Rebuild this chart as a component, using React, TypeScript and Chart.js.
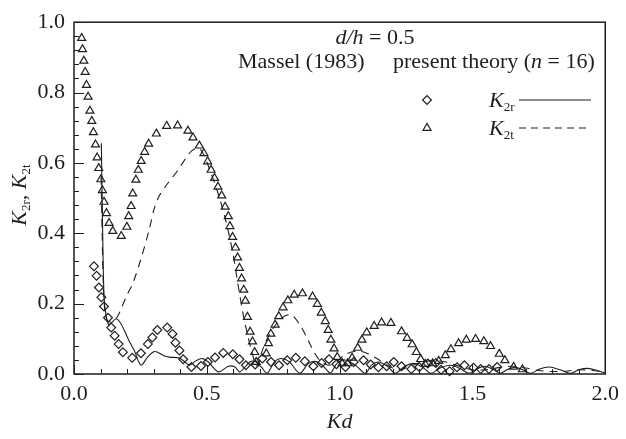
import React, { useEffect, useRef } from "react";
import { Chart, registerables } from "chart.js";

Chart.register(...registerables);

const SERIF = '"Liberation Serif", "Times New Roman", serif';
const INK = "#1e1e1e";

// Massel (1983), reflected second-order coefficient K2r
const masselRKd = [
  0.075, 0.085, 0.094, 0.103, 0.113, 0.128, 0.14, 0.153, 0.168, 0.184, 0.219, 0.252, 0.278, 0.295, 0.314,
  0.351, 0.371, 0.382, 0.397, 0.411, 0.442, 0.478, 0.504, 0.531, 0.562, 0.598, 0.623, 0.647, 0.682, 0.709,
  0.742, 0.772, 0.803, 0.835, 0.869, 0.901, 0.932, 0.96, 0.988, 1.022, 1.053, 1.09, 1.117, 1.146, 1.177,
  1.204, 1.233, 1.27, 1.3, 1.332, 1.362, 1.382, 1.414, 1.442, 1.47, 1.504, 1.531, 1.562, 1.593,
];
const masselR = [
  0.306, 0.279, 0.246, 0.218, 0.192, 0.16, 0.132, 0.109, 0.085, 0.062, 0.046, 0.059, 0.085, 0.104, 0.125,
  0.132, 0.114, 0.089, 0.067, 0.042, 0.02, 0.023, 0.034, 0.047, 0.06, 0.056, 0.042, 0.025, 0.027, 0.044,
  0.034, 0.025, 0.039, 0.046, 0.036, 0.022, 0.031, 0.042, 0.028, 0.02, 0.034, 0.039, 0.027, 0.019, 0.022,
  0.034, 0.022, 0.014, 0.02, 0.03, 0.031, 0.012, 0.008, 0.019, 0.025, 0.018, 0.014, 0.014, 0.02,
];

// Massel (1983), transmitted second-order coefficient K2t
const masselTKd = [
  0.029, 0.032, 0.037, 0.042, 0.047, 0.053, 0.06, 0.067, 0.073, 0.081, 0.087, 0.093, 0.101, 0.107, 0.113,
  0.122, 0.132, 0.146, 0.178, 0.199, 0.206, 0.215, 0.221, 0.233, 0.242, 0.253, 0.266, 0.281, 0.31, 0.349,
  0.39, 0.429, 0.448, 0.472, 0.489, 0.503, 0.516, 0.529, 0.542, 0.556, 0.569, 0.581, 0.587, 0.597, 0.608,
  0.616, 0.623, 0.631, 0.639, 0.645, 0.653, 0.663, 0.672, 0.68, 0.686, 0.724, 0.732, 0.741, 0.757, 0.771,
  0.787, 0.805, 0.829, 0.86, 0.898, 0.916, 0.931, 0.946, 0.957, 0.967, 0.979, 0.991, 1.01, 1.03, 1.047,
  1.068, 1.084, 1.102, 1.13, 1.158, 1.193, 1.233, 1.254, 1.273, 1.289, 1.305, 1.322, 1.35, 1.373, 1.398,
  1.419, 1.448, 1.477, 1.512, 1.543, 1.568, 1.601, 1.622, 1.655, 1.688,
];
const masselT = [
  0.955, 0.923, 0.89, 0.858, 0.821, 0.788, 0.748, 0.719, 0.687, 0.652, 0.615, 0.585, 0.553, 0.522, 0.489,
  0.457, 0.429, 0.406, 0.392, 0.418, 0.448, 0.477, 0.513, 0.552, 0.58, 0.605, 0.631, 0.654, 0.683, 0.705,
  0.706, 0.691, 0.672, 0.649, 0.627, 0.604, 0.58, 0.557, 0.532, 0.507, 0.475, 0.448, 0.42, 0.389, 0.359,
  0.331, 0.301, 0.271, 0.239, 0.208, 0.162, 0.12, 0.092, 0.062, 0.034, 0.058, 0.087, 0.114, 0.14, 0.164,
  0.189, 0.209, 0.225, 0.229, 0.22, 0.199, 0.174, 0.15, 0.125, 0.097, 0.072, 0.048, 0.03, 0.03, 0.046,
  0.074, 0.097, 0.118, 0.136, 0.146, 0.145, 0.121, 0.102, 0.084, 0.062, 0.042, 0.028, 0.03, 0.037, 0.053,
  0.07, 0.087, 0.097, 0.099, 0.093, 0.079, 0.057, 0.039, 0.02, 0.013,
];

// Present theory (n = 16), K2r
const theoryRKd = [
  0.103, 0.108, 0.113, 0.12, 0.13, 0.14, 0.159, 0.175, 0.19, 0.21, 0.227, 0.252, 0.277, 0.3, 0.315, 0.338,
  0.358, 0.395, 0.413, 0.435, 0.46, 0.482, 0.506, 0.544, 0.581, 0.606, 0.624, 0.662, 0.68, 0.705, 0.727,
  0.755, 0.78, 0.81, 0.85, 0.88, 0.905, 0.935, 0.965, 0.99, 1.02, 1.06, 1.096, 1.12, 1.146, 1.18, 1.21,
  1.245, 1.282, 1.315, 1.344, 1.38, 1.419, 1.455, 1.487, 1.52, 1.549, 1.58, 1.605, 1.635, 1.665, 1.695,
  1.72, 1.755, 1.79, 1.83, 1.87, 1.9, 1.935, 1.97, 2.0,
];
const theoryR = [
  0.656, 0.4, 0.22, 0.17, 0.14, 0.145, 0.157, 0.145, 0.123, 0.09, 0.067, 0.025, 0.048, 0.063, 0.062, 0.052,
  0.048, 0.046, 0.037, 0.025, 0.038, 0.044, 0.034, 0.006, 0.022, 0.02, 0.006, 0.034, 0.036, 0.02, 0.002,
  0.035, 0.044, 0.035, 0.002, 0.028, 0.036, 0.025, 0.003, 0.03, 0.04, 0.025, 0.002, 0.025, 0.034, 0.022,
  0.002, 0.022, 0.03, 0.018, 0.002, 0.018, 0.025, 0.015, 0.002, 0.016, 0.022, 0.012, 0.002, 0.014, 0.018,
  0.01, 0.002, 0.015, 0.02, 0.012, 0.002, 0.012, 0.016, 0.01, 0.003,
];

// Present theory (n = 16), K2t
const theoryTKd = [
  0.102, 0.106, 0.11, 0.116, 0.125, 0.135, 0.15, 0.165, 0.18, 0.2, 0.221, 0.252, 0.283, 0.302, 0.32, 0.351,
  0.389, 0.426, 0.444, 0.469, 0.488, 0.513, 0.537, 0.554, 0.569, 0.585, 0.6, 0.612, 0.624, 0.637, 0.653,
  0.668, 0.683, 0.692, 0.705, 0.724, 0.75, 0.78, 0.817, 0.854, 0.879, 0.904, 0.93, 0.96, 0.99, 1.02, 1.065,
  1.1, 1.14, 1.18, 1.22, 1.26, 1.3, 1.35, 1.4, 1.45, 1.5, 1.55, 1.6, 1.65, 1.7, 1.75, 1.8, 1.85, 1.9, 1.95,
  2.0,
];
const theoryT = [
  0.56, 0.4, 0.26, 0.18, 0.152, 0.148, 0.152, 0.165, 0.19, 0.225, 0.257, 0.327, 0.41, 0.47, 0.505, 0.54,
  0.577, 0.619, 0.635, 0.642, 0.624, 0.577, 0.526, 0.485, 0.443, 0.392, 0.336, 0.28, 0.225, 0.169, 0.113,
  0.067, 0.03, 0.022, 0.058, 0.095, 0.13, 0.158, 0.169, 0.135, 0.1, 0.062, 0.035, 0.025, 0.035, 0.055, 0.065,
  0.06, 0.044, 0.025, 0.012, 0.02, 0.032, 0.038, 0.034, 0.022, 0.012, 0.012, 0.018, 0.022, 0.017, 0.01,
  0.007, 0.008, 0.012, 0.01, 0.006,
];

const xTickValues = [0, 0.5, 1.0, 1.5, 2.0];
const yTickValues = [0, 0.2, 0.4, 0.6, 0.8, 1.0];

const pairs = (xs: number[], ys: number[]) => xs.map((x, i) => ({ x, y: ys[i] }));

type Run = { text: string; size: number; italic?: boolean; dy?: number };

function runWidth(ctx: CanvasRenderingContext2D, runs: Run[]) {
  let w = 0;
  for (const r of runs) {
    ctx.font = `${r.italic ? "italic " : ""}${r.size}px ${SERIF}`;
    w += ctx.measureText(r.text).width;
  }
  return w;
}

function drawRuns(ctx: CanvasRenderingContext2D, runs: Run[], x: number, y: number) {
  let cx = x;
  ctx.textBaseline = "alphabetic";
  ctx.textAlign = "left";
  for (const r of runs) {
    ctx.font = `${r.italic ? "italic " : ""}${r.size}px ${SERIF}`;
    ctx.fillText(r.text, cx, y + (r.dy || 0));
    cx += ctx.measureText(r.text).width;
  }
}

// legend glyphs, same geometry as the library's rectRot / triangle point styles
function diamond(ctx: CanvasRenderingContext2D, x: number, y: number, r: number) {
  ctx.beginPath();
  ctx.moveTo(x, y - r);
  ctx.lineTo(x + r, y);
  ctx.lineTo(x, y + r);
  ctx.lineTo(x - r, y);
  ctx.closePath();
  ctx.stroke();
}

function triangle(ctx: CanvasRenderingContext2D, x: number, y: number, r: number) {
  ctx.beginPath();
  for (let k = 0; k < 3; k++) {
    const a = (k * 2 * Math.PI) / 3;
    const px = x + Math.sin(a) * r;
    const py = y - Math.cos(a) * r;
    if (k === 0) ctx.moveTo(px, py);
    else ctx.lineTo(px, py);
  }
  ctx.closePath();
  ctx.stroke();
}

const decorations = {
  id: "decorations",
  afterDraw(chart: any) {
    const { ctx, chartArea, scales } = chart;
    const xs = scales.x;
    const ys = scales.y;
    ctx.save();
    ctx.strokeStyle = INK;
    ctx.fillStyle = INK;

    // frame
    ctx.lineWidth = 1.5;
    ctx.strokeRect(chartArea.left, chartArea.top, chartArea.right - chartArea.left, chartArea.bottom - chartArea.top);

    // inward ticks
    ctx.lineWidth = 1;
    for (let i = 0; i <= 20; i++) {
      const v = i / 10;
      const px = Math.round(xs.getPixelForValue(v)) + 0.5;
      const len = i % 5 === 0 ? 9 : 5;
      ctx.beginPath();
      ctx.moveTo(px, chartArea.bottom);
      ctx.lineTo(px, chartArea.bottom - len);
      ctx.stroke();
    }
    for (let i = 0; i <= 25; i++) {
      const v = i * 0.04;
      const py = Math.round(ys.getPixelForValue(v)) + 0.5;
      const len = i % 5 === 0 ? 10 : 5;
      ctx.beginPath();
      ctx.moveTo(chartArea.left, py);
      ctx.lineTo(chartArea.left + len, py);
      ctx.stroke();
    }

    // header text
    const fs = 22;
    const sub = 13;
    const head: Run[] = [
      { text: "d/h", size: fs, italic: true },
      { text: " = 0.5", size: fs },
    ];
    drawRuns(ctx, head, 375 - runWidth(ctx, head) / 2, 44);
    drawRuns(ctx, [{ text: "Massel (1983)", size: fs }], 238, 68);
    drawRuns(
      ctx,
      [
        { text: "present theory (", size: fs },
        { text: "n", size: fs, italic: true },
        { text: " = 16)", size: fs },
      ],
      393,
      68
    );

    // legend rows
    const rows = [
      { sub: "2r", y: 100, tri: false, dash: [] as number[] },
      { sub: "2t", y: 128, tri: true, dash: [7, 5] },
    ];
    for (const row of rows) {
      ctx.lineWidth = 1.2;
      ctx.setLineDash([]);
      if (row.tri) triangle(ctx, 427, row.y, 4.6);
      else diamond(ctx, 427, row.y, 4.4);
      drawRuns(
        ctx,
        [
          { text: "K", size: fs, italic: true },
          { text: row.sub, size: sub, dy: 4 },
        ],
        489,
        row.y + 7
      );
      ctx.setLineDash(row.dash);
      ctx.lineWidth = 1.2;
      ctx.beginPath();
      ctx.moveTo(519, row.y);
      ctx.lineTo(591, row.y);
      ctx.stroke();
    }
    ctx.setLineDash([]);

    // axis titles
    const kd: Run[] = [{ text: "Kd", size: fs, italic: true }];
    drawRuns(ctx, kd, (chartArea.left + chartArea.right) / 2 - runWidth(ctx, kd) / 2, 428);

    const yt: Run[] = [
      { text: "K", size: fs, italic: true },
      { text: "2r", size: sub, dy: 4 },
      { text: ", ", size: fs },
      { text: "K", size: fs, italic: true },
      { text: "2t", size: sub, dy: 4 },
    ];
    ctx.translate(26, 195);
    ctx.rotate(-Math.PI / 2);
    drawRuns(ctx, yt, -runWidth(ctx, yt) / 2, 0);
    ctx.restore();
  },
};

export default function App() {
  const ref = useRef<HTMLCanvasElement | null>(null);

  useEffect(() => {
    document.body.style.margin = "0";
    const canvas = ref.current;
    if (!canvas) return;

    const chart = new Chart(canvas, {
      type: "scatter",
      data: {
        datasets: [
          {
            label: "present theory K2r",
            type: "line",
            data: pairs(theoryRKd, theoryR),
            borderColor: INK,
            borderWidth: 1.1,
            pointRadius: 0,
            tension: 0.3,
            fill: false,
          },
          {
            label: "present theory K2t",
            type: "line",
            data: pairs(theoryTKd, theoryT),
            borderColor: INK,
            borderWidth: 1.1,
            borderDash: [8, 6],
            pointRadius: 0,
            tension: 0.3,
            fill: false,
          },
          {
            label: "Massel K2r",
            data: pairs(masselRKd, masselR),
            pointStyle: "rectRot",
            pointRadius: 4.4,
            pointBorderWidth: 1.2,
            borderColor: INK,
            backgroundColor: "rgba(0,0,0,0)",
            clip: false,
          },
          {
            label: "Massel K2t",
            data: pairs(masselTKd, masselT),
            pointStyle: "triangle",
            pointRadius: 4.6,
            pointBorderWidth: 1.2,
            borderColor: INK,
            backgroundColor: "rgba(0,0,0,0)",
            clip: false,
          },
        ],
      } as any,
      options: {
        animation: false,
        responsive: false,
        devicePixelRatio: 1,
        layout: { padding: { top: 15, right: 15, left: 0, bottom: 0 } },
        plugins: { legend: { display: false }, tooltip: { enabled: false } },
        scales: {
          x: {
            type: "linear",
            min: 0,
            max: 2,
            afterFit: (s: any) => {
              s.height = 65;
            },
            afterBuildTicks: (s: any) => {
              s.ticks = xTickValues.map((value) => ({ value }));
            },
            grid: { display: false, drawTicks: false },
            border: { display: false },
            ticks: {
              padding: 7,
              color: INK,
              font: { family: SERIF, size: 22 },
              callback: (v: any) => Number(v).toFixed(1),
            },
          },
          y: {
            type: "linear",
            min: 0,
            max: 1,
            afterFit: (s: any) => {
              s.width = 74;
            },
            afterBuildTicks: (s: any) => {
              s.ticks = yTickValues.map((value) => ({ value }));
            },
            grid: { display: false, drawTicks: false },
            border: { display: false },
            ticks: {
              padding: 9,
              color: INK,
              font: { family: SERIF, size: 22 },
              callback: (v: any) => Number(v).toFixed(1),
            },
          },
        },
      } as any,
      plugins: [decorations],
    });
    return () => chart.destroy();
  }, []);

  return (
    <div style={{ width: 626, height: 439, background: "#fff" }}>
      <canvas ref={ref} width={626} height={439} />
    </div>
  );
}
